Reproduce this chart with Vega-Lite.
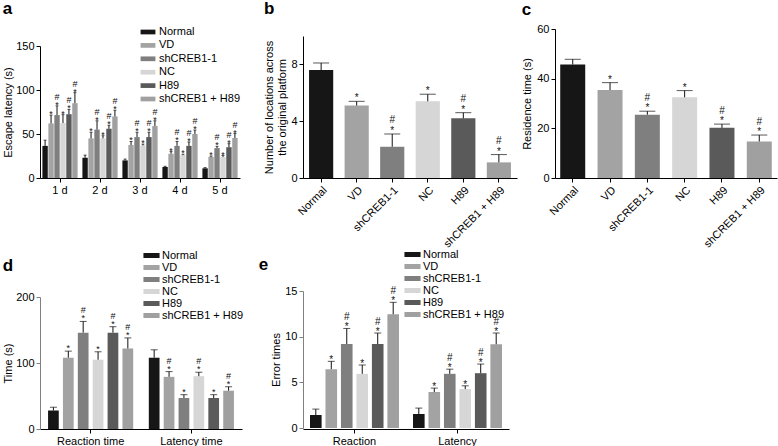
{
  "$schema": "https://vega.github.io/schema/vega-lite/v6.json",
  "padding": {"left": 2, "top": 0, "right": 2, "bottom": 2},
  "background": "white",
  "columns": 3,
  "bounds": "flush",
  "spacing": {"row": 113, "column": 38},
  "resolve": {"scale": {"color": "independent", "xOffset": "independent"}, "legend": {"color": "independent"}},
  "config": {
    "font": "Liberation Sans",
    "view": {"stroke": null},
    "axis": {"grid": false, "domainColor": "#000", "tickColor": "#000", "labelColor": "#000", "titleColor": "#000", "labelFontSize": 11, "titleFontSize": 11, "titleFontWeight": "normal", "tickSize": 4, "labelPadding": 2, "domainWidth": 1, "tickWidth": 1},
    "legend": {"labelFontSize": 11, "labelColor": "#000", "padding": 0, "symbolStrokeWidth": 0, "labelOffset": 4},
    "title": {"fontSize": 17, "fontWeight": "bold", "anchor": "start", "frame": "bounds", "color": "#000", "offset": 0}
  },
  "datasets": {
    "a": [
      {"day": "1 d", "cond": "Normal", "val": 36.5, "err": 43, "star": "", "hash": ""},
      {"day": "1 d", "cond": "VD", "val": 62, "err": 71.5, "star": "*", "hash": ""},
      {"day": "1 d", "cond": "shCREB1-1", "val": 71.5, "err": 82, "star": "*", "hash": "#"},
      {"day": "1 d", "cond": "NC", "val": 62.5, "err": 72, "star": "*", "hash": ""},
      {"day": "1 d", "cond": "H89", "val": 72.5, "err": 78, "star": "*", "hash": "#"},
      {"day": "1 d", "cond": "shCREB1 + H89", "val": 85, "err": 97, "star": "*", "hash": "#"},
      {"day": "2 d", "cond": "Normal", "val": 23, "err": 26, "star": "", "hash": ""},
      {"day": "2 d", "cond": "VD", "val": 45, "err": 52, "star": "*", "hash": ""},
      {"day": "2 d", "cond": "shCREB1-1", "val": 55, "err": 65, "star": "*", "hash": "#"},
      {"day": "2 d", "cond": "NC", "val": 45, "err": 48, "star": "*", "hash": ""},
      {"day": "2 d", "cond": "H89", "val": 56, "err": 60, "star": "*", "hash": "#"},
      {"day": "2 d", "cond": "shCREB1 + H89", "val": 70, "err": 77, "star": "*", "hash": "#"},
      {"day": "3 d", "cond": "Normal", "val": 20, "err": 21.5, "star": "", "hash": ""},
      {"day": "3 d", "cond": "VD", "val": 37.5, "err": 41.5, "star": "*", "hash": ""},
      {"day": "3 d", "cond": "shCREB1-1", "val": 46.5, "err": 52, "star": "*", "hash": "#"},
      {"day": "3 d", "cond": "NC", "val": 37, "err": 38.5, "star": "*", "hash": ""},
      {"day": "3 d", "cond": "H89", "val": 46.5, "err": 52, "star": "*", "hash": "#"},
      {"day": "3 d", "cond": "shCREB1 + H89", "val": 59, "err": 65, "star": "*", "hash": "#"},
      {"day": "4 d", "cond": "Normal", "val": 12.5, "err": 13.3, "star": "", "hash": ""},
      {"day": "4 d", "cond": "VD", "val": 27.5, "err": 30, "star": "*", "hash": ""},
      {"day": "4 d", "cond": "shCREB1-1", "val": 36.5, "err": 41.5, "star": "*", "hash": "#"},
      {"day": "4 d", "cond": "NC", "val": 26, "err": 27, "star": "*", "hash": ""},
      {"day": "4 d", "cond": "H89", "val": 36.5, "err": 41, "star": "*", "hash": "#"},
      {"day": "4 d", "cond": "shCREB1 + H89", "val": 50, "err": 54.5, "star": "*", "hash": "#"},
      {"day": "5 d", "cond": "Normal", "val": 11, "err": 11.8, "star": "", "hash": ""},
      {"day": "5 d", "cond": "VD", "val": 24, "err": 25, "star": "*", "hash": ""},
      {"day": "5 d", "cond": "shCREB1-1", "val": 34, "err": 36, "star": "*", "hash": "#"},
      {"day": "5 d", "cond": "NC", "val": 24, "err": 25.5, "star": "*", "hash": ""},
      {"day": "5 d", "cond": "H89", "val": 35, "err": 39, "star": "*", "hash": "#"},
      {"day": "5 d", "cond": "shCREB1 + H89", "val": 45.5, "err": 50.5, "star": "*", "hash": "#"}
    ],
    "b": [
      {"cond": "Normal", "val": 7.6, "err": 8.1, "star": "", "hash": ""},
      {"cond": "VD", "val": 5.1, "err": 5.4, "star": "*", "hash": ""},
      {"cond": "shCREB1-1", "val": 2.2, "err": 3.1, "star": "*", "hash": "#"},
      {"cond": "NC", "val": 5.4, "err": 5.9, "star": "*", "hash": ""},
      {"cond": "H89", "val": 4.2, "err": 4.6, "star": "*", "hash": "#"},
      {"cond": "shCREB1 + H89", "val": 1.1, "err": 1.65, "star": "*", "hash": "#"}
    ],
    "c": [
      {"cond": "Normal", "val": 45.7, "err": 47.8, "star": "", "hash": ""},
      {"cond": "VD", "val": 35.4, "err": 38.4, "star": "*", "hash": ""},
      {"cond": "shCREB1-1", "val": 25.5, "err": 26.9, "star": "*", "hash": "#"},
      {"cond": "NC", "val": 32.5, "err": 35.2, "star": "*", "hash": ""},
      {"cond": "H89", "val": 20.2, "err": 21.7, "star": "*", "hash": "#"},
      {"cond": "shCREB1 + H89", "val": 14.7, "err": 17.3, "star": "*", "hash": "#"}
    ],
    "d": [
      {"grp": "Reaction time", "cond": "Normal", "val": 28, "err": 33, "star": "", "hash": ""},
      {"grp": "Reaction time", "cond": "VD", "val": 108, "err": 118, "star": "*", "hash": ""},
      {"grp": "Reaction time", "cond": "shCREB1-1", "val": 146, "err": 163, "star": "*", "hash": "#"},
      {"grp": "Reaction time", "cond": "NC", "val": 105, "err": 117, "star": "*", "hash": ""},
      {"grp": "Reaction time", "cond": "H89", "val": 146, "err": 155, "star": "*", "hash": "#"},
      {"grp": "Reaction time", "cond": "shCREB1 + H89", "val": 122, "err": 138, "star": "*", "hash": "#"},
      {"grp": "Latency time", "cond": "Normal", "val": 108, "err": 120, "star": "", "hash": ""},
      {"grp": "Latency time", "cond": "VD", "val": 79, "err": 87, "star": "*", "hash": "#"},
      {"grp": "Latency time", "cond": "shCREB1-1", "val": 47, "err": 52, "star": "*", "hash": ""},
      {"grp": "Latency time", "cond": "NC", "val": 80, "err": 86, "star": "*", "hash": "#"},
      {"grp": "Latency time", "cond": "H89", "val": 47, "err": 52, "star": "*", "hash": ""},
      {"grp": "Latency time", "cond": "shCREB1 + H89", "val": 58, "err": 64, "star": "*", "hash": "#"}
    ],
    "e": [
      {"grp": "Reaction", "cond": "Normal", "val": 1.42, "err": 2.07, "star": "", "hash": ""},
      {"grp": "Reaction", "cond": "VD", "val": 6.44, "err": 7.3, "star": "*", "hash": ""},
      {"grp": "Reaction", "cond": "shCREB1-1", "val": 9.2, "err": 10.9, "star": "*", "hash": "#"},
      {"grp": "Reaction", "cond": "NC", "val": 5.93, "err": 6.9, "star": "*", "hash": ""},
      {"grp": "Reaction", "cond": "H89", "val": 9.2, "err": 10.4, "star": "*", "hash": "#"},
      {"grp": "Reaction", "cond": "shCREB1 + H89", "val": 12.45, "err": 13.76, "star": "*", "hash": "#"},
      {"grp": "Latency", "cond": "Normal", "val": 1.53, "err": 2.18, "star": "", "hash": ""},
      {"grp": "Latency", "cond": "VD", "val": 3.93, "err": 4.37, "star": "*", "hash": ""},
      {"grp": "Latency", "cond": "shCREB1-1", "val": 5.93, "err": 6.44, "star": "*", "hash": "#"},
      {"grp": "Latency", "cond": "NC", "val": 4.26, "err": 4.62, "star": "*", "hash": ""},
      {"grp": "Latency", "cond": "H89", "val": 6.0, "err": 7.0, "star": "*", "hash": "#"},
      {"grp": "Latency", "cond": "shCREB1 + H89", "val": 9.17, "err": 10.4, "star": "*", "hash": "#"}
    ]
  },
  "concat": [
    {
      "data": {"name": "a"},
      "width": 225, "height": 149,
      "title": {"text": "a", "dy": -3},
      "encoding": {
        "x": {"field": "day", "type": "nominal", "sort": null, "scale": {"range": [0, 200], "paddingInner": 0.12, "paddingOuter": 0.06}, "axis": {"title": null, "labelAngle": 0}},
        "xOffset": {"field": "cond", "type": "nominal", "sort": ["Normal", "VD", "shCREB1-1", "NC", "H89", "shCREB1 + H89"], "scale": {"paddingInner": 0.1}}
      },
      "layer": [
        {"mark": {"type": "bar"},
         "encoding": {
           "y": {"field": "val", "type": "quantitative", "scale": {"domain": [0, 150], "range": [149, 17], "nice": false}, "axis": {"title": "Escape latency (s)", "values": [0, 50, 100, 150], "titlePadding": 2}},
           "color": {"field": "cond", "type": "nominal", "sort": ["Normal", "VD", "shCREB1-1", "NC", "H89", "shCREB1 + H89"],
             "scale": {"domain": ["Normal", "VD", "shCREB1-1", "NC", "H89", "shCREB1 + H89"], "range": ["#161616", "#a3a3a3", "#7f7f7f", "#d6d6d6", "#5a5a5a", "#a0a0a0"]},
             "legend": {"title": null, "orient": "none", "legendX": 101, "legendY": -4, "symbolType": "M-1.1,-0.35H1.1V0.35H-1.1Z", "symbolSize": 182, "rowPadding": 1.4}}
         }},
        {"mark": {"type": "rule", "color": "#111", "strokeWidth": 1}, "encoding": {"y": {"field": "val", "type": "quantitative"}, "y2": {"field": "err"}}},
        {"mark": {"type": "tick", "orient": "horizontal", "size": 3, "thickness": 1, "color": "#111"}, "encoding": {"y": {"field": "err", "type": "quantitative"}}},
        {"mark": {"type": "text", "baseline": "alphabetic", "dy": 2, "fontSize": 9, "color": "#111"}, "encoding": {"y": {"field": "err", "type": "quantitative"}, "text": {"field": "star"}}},
        {"mark": {"type": "text", "baseline": "alphabetic", "dy": -6, "fontSize": 9, "color": "#111"}, "encoding": {"y": {"field": "err", "type": "quantitative"}, "text": {"field": "hash"}}}
      ]
    },
    {
      "data": {"name": "b"},
      "width": 214, "height": 149,
      "title": {"text": "b", "dy": -7},
      "encoding": {
        "x": {"field": "cond", "type": "nominal", "sort": null, "scale": {"paddingInner": 0.32, "paddingOuter": 0.17}, "axis": {"title": null, "labelAngle": -45, "labelAlign": "right", "labelBaseline": "top"}}
      },
      "layer": [
        {"mark": {"type": "bar"},
         "encoding": {
           "y": {"field": "val", "type": "quantitative", "scale": {"domain": [0, 10], "range": [149, 7], "nice": false}, "axis": {"title": ["Number of locations across", "the original platform"], "values": [0, 2, 4, 6, 8, 10], "titlePadding": 3}},
           "color": {"field": "cond", "type": "nominal", "sort": null,
             "scale": {"domain": ["Normal", "VD", "shCREB1-1", "NC", "H89", "shCREB1 + H89"], "range": ["#161616", "#a3a3a3", "#7f7f7f", "#d6d6d6", "#5a5a5a", "#a0a0a0"]},
             "legend": null}
         }},
        {"mark": {"type": "rule", "color": "#111", "strokeWidth": 1}, "encoding": {"y": {"field": "val", "type": "quantitative"}, "y2": {"field": "err"}}},
        {"mark": {"type": "tick", "orient": "horizontal", "size": 16, "thickness": 1, "color": "#111"}, "encoding": {"y": {"field": "err", "type": "quantitative"}}},
        {"mark": {"type": "text", "baseline": "alphabetic", "dy": 0, "fontSize": 10, "color": "#111"}, "encoding": {"y": {"field": "err", "type": "quantitative"}, "text": {"field": "star"}}},
        {"mark": {"type": "text", "baseline": "alphabetic", "dy": -11, "fontSize": 10, "color": "#111"}, "encoding": {"y": {"field": "err", "type": "quantitative"}, "text": {"field": "hash"}}}
      ]
    },
    {
      "data": {"name": "c"},
      "width": 222, "height": 149,
      "title": {"text": "c"},
      "encoding": {
        "x": {"field": "cond", "type": "nominal", "sort": null, "scale": {"paddingInner": 0.33, "paddingOuter": 0.14}, "axis": {"title": null, "labelAngle": -45, "labelAlign": "right", "labelBaseline": "top"}}
      },
      "layer": [
        {"mark": {"type": "bar"},
         "encoding": {
           "y": {"field": "val", "type": "quantitative", "scale": {"domain": [0, 60], "nice": false}, "axis": {"title": "Residence time (s)", "values": [0, 20, 40, 60], "titlePadding": 4}},
           "color": {"field": "cond", "type": "nominal", "sort": null,
             "scale": {"domain": ["Normal", "VD", "shCREB1-1", "NC", "H89", "shCREB1 + H89"], "range": ["#161616", "#a3a3a3", "#7f7f7f", "#d6d6d6", "#5a5a5a", "#a0a0a0"]},
             "legend": null}
         }},
        {"mark": {"type": "rule", "color": "#111", "strokeWidth": 1}, "encoding": {"y": {"field": "val", "type": "quantitative"}, "y2": {"field": "err"}}},
        {"mark": {"type": "tick", "orient": "horizontal", "size": 16, "thickness": 1, "color": "#111"}, "encoding": {"y": {"field": "err", "type": "quantitative"}}},
        {"mark": {"type": "text", "baseline": "alphabetic", "dy": 0, "fontSize": 10, "color": "#111"}, "encoding": {"y": {"field": "err", "type": "quantitative"}, "text": {"field": "star"}}},
        {"mark": {"type": "text", "baseline": "alphabetic", "dy": -10, "fontSize": 10, "color": "#111"}, "encoding": {"y": {"field": "err", "type": "quantitative"}, "text": {"field": "hash"}}}
      ]
    },
    {
      "data": {"name": "d"},
      "width": 225, "height": 138,
      "title": {"text": "d", "dy": 30},
      "encoding": {
        "x": {"field": "grp", "type": "nominal", "sort": null, "scale": {"range": [0, 202], "paddingInner": 0.155, "paddingOuter": 0.08}, "axis": {"title": null, "labelAngle": 0}},
        "xOffset": {"field": "cond", "type": "nominal", "sort": ["Normal", "VD", "shCREB1-1", "NC", "H89", "shCREB1 + H89"], "scale": {"paddingInner": 0.28}}
      },
      "layer": [
        {"mark": {"type": "bar"},
         "encoding": {
           "y": {"field": "val", "type": "quantitative", "scale": {"domain": [0, 200], "range": [138, 6], "nice": false}, "axis": {"title": "Time (s)", "values": [0, 50, 100, 150, 200], "titlePadding": 2, "domainColor": "#808080", "tickColor": "#808080"}},
           "color": {"field": "cond", "type": "nominal", "sort": ["Normal", "VD", "shCREB1-1", "NC", "H89", "shCREB1 + H89"],
             "scale": {"domain": ["Normal", "VD", "shCREB1-1", "NC", "H89", "shCREB1 + H89"], "range": ["#161616", "#a3a3a3", "#7f7f7f", "#d6d6d6", "#5a5a5a", "#a0a0a0"]},
             "legend": {"title": null, "orient": "none", "legendX": 105, "legendY": -42, "symbolType": "M-1.3,-0.4H1.3V0.4H-1.3Z", "symbolSize": 154, "rowPadding": 0}}
         }},
        {"mark": {"type": "rule", "color": "#111", "strokeWidth": 1}, "encoding": {"y": {"field": "val", "type": "quantitative"}, "y2": {"field": "err"}}},
        {"mark": {"type": "tick", "orient": "horizontal", "size": 7, "thickness": 1, "color": "#111"}, "encoding": {"y": {"field": "err", "type": "quantitative"}}},
        {"mark": {"type": "text", "baseline": "alphabetic", "dy": 0, "fontSize": 9, "color": "#111"}, "encoding": {"y": {"field": "err", "type": "quantitative"}, "text": {"field": "star"}}},
        {"mark": {"type": "text", "baseline": "alphabetic", "dy": -8, "fontSize": 9, "color": "#111"}, "encoding": {"y": {"field": "err", "type": "quantitative"}, "text": {"field": "hash"}}}
      ]
    },
    {
      "data": {"name": "e"},
      "width": 206, "height": 138,
      "title": {"text": "e", "dy": 30, "dx": -12},
      "encoding": {
        "x": {"field": "grp", "type": "nominal", "sort": null, "scale": {"paddingInner": 0.136, "paddingOuter": 0.068}, "axis": {"title": null, "labelAngle": 0}},
        "xOffset": {"field": "cond", "type": "nominal", "sort": ["Normal", "VD", "shCREB1-1", "NC", "H89", "shCREB1 + H89"], "scale": {"paddingInner": 0.25}}
      },
      "layer": [
        {"mark": {"type": "bar"},
         "encoding": {
           "y": {"field": "val", "type": "quantitative", "scale": {"domain": [0, 15], "range": [137, 0], "nice": false}, "axis": {"title": "Error times", "values": [0, 5, 10, 15], "titlePadding": 3, "domainColor": "#808080", "tickColor": "#808080"}},
           "color": {"field": "cond", "type": "nominal", "sort": ["Normal", "VD", "shCREB1-1", "NC", "H89", "shCREB1 + H89"],
             "scale": {"domain": ["Normal", "VD", "shCREB1-1", "NC", "H89", "shCREB1 + H89"], "range": ["#161616", "#a3a3a3", "#7f7f7f", "#d6d6d6", "#5a5a5a", "#a0a0a0"]},
             "legend": {"title": null, "orient": "none", "legendX": 103, "legendY": -43, "symbolType": "M-1.3,-0.4H1.3V0.4H-1.3Z", "symbolSize": 154, "rowPadding": 0}}
         }},
        {"mark": {"type": "rule", "color": "#111", "strokeWidth": 1}, "encoding": {"y": {"field": "val", "type": "quantitative"}, "y2": {"field": "err"}}},
        {"mark": {"type": "tick", "orient": "horizontal", "size": 7, "thickness": 1, "color": "#111"}, "encoding": {"y": {"field": "err", "type": "quantitative"}}},
        {"mark": {"type": "text", "baseline": "alphabetic", "dy": 2, "fontSize": 10, "color": "#111"}, "encoding": {"y": {"field": "err", "type": "quantitative"}, "text": {"field": "star"}}},
        {"mark": {"type": "text", "baseline": "alphabetic", "dy": -8, "fontSize": 10, "color": "#111"}, "encoding": {"y": {"field": "err", "type": "quantitative"}, "text": {"field": "hash"}}}
      ]
    }
  ]
}
